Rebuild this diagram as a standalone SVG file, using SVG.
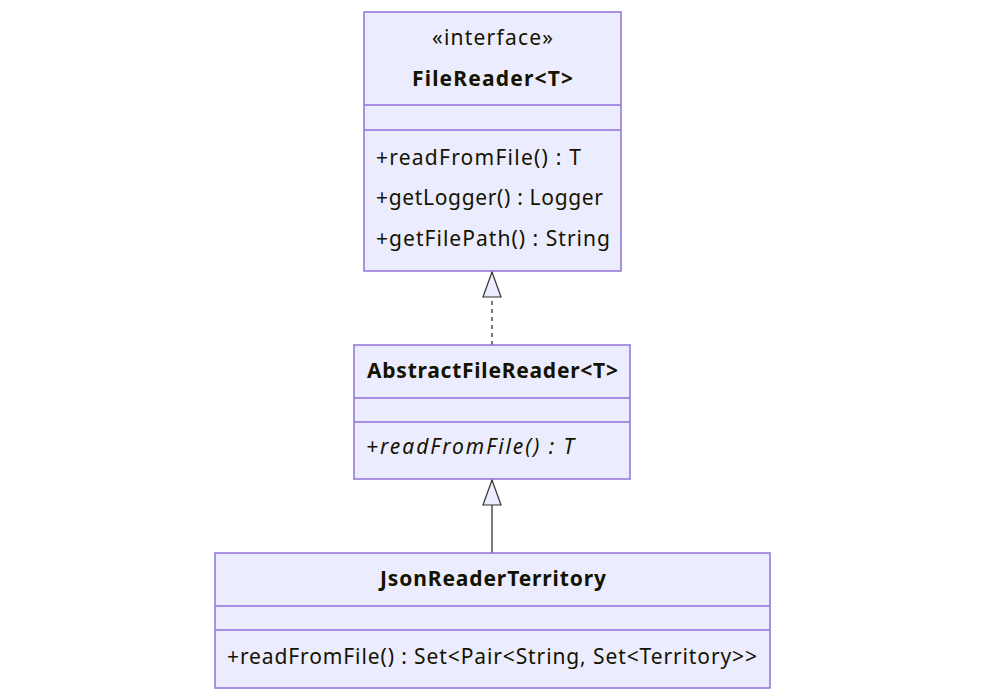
<svg xmlns="http://www.w3.org/2000/svg" width="985" height="700" viewBox="0 0 985 700">
<defs>
<marker id="tri" markerWidth="27" markerHeight="22" refX="26" refY="11" orient="auto" markerUnits="userSpaceOnUse" viewBox="0 0 27 22">
<path d="M26 11 L1 2 L1 20 Z" fill="#ECECFF" stroke="#333" stroke-width="1.2"/>
</marker>
<style>
.box{fill:#ECECFF;stroke:#9370DB;stroke-width:1.5}
.sep{stroke:#9370DB;stroke-width:1.5}
text{font-family:"Noto Sans","DejaVu Sans",sans-serif;font-size:21px;fill:#131300;dominant-baseline:central}
.t{font-weight:bold;text-anchor:middle}
.c{text-anchor:middle}
.i{font-style:italic}
.edge{stroke:#333;stroke-width:1.3;fill:none}
</style>
</defs>
<rect width="985" height="700" fill="#fff"/>
<g id="connectors">
<path class="edge" d="M492 345 L492 272" stroke-dasharray="4,4" marker-end="url(#tri)"/>
<path class="edge" d="M492 553 L492 480" marker-end="url(#tri)"/>
</g>
<g id="FileReader">
<rect class="box" x="364" y="12" width="257" height="259"/>
<line class="sep" x1="364" y1="105" x2="621" y2="105"/>
<line class="sep" x1="364" y1="130" x2="621" y2="130"/>
<text class="c" x="492.5" y="37" textLength="121">«interface»</text>
<text class="t" x="492.5" y="78" textLength="161">FileReader&lt;T&gt;</text>
<text x="376" y="157" textLength="205">+readFromFile() : T</text>
<text x="376" y="197" textLength="227">+getLogger() : Logger</text>
<text x="376" y="238" textLength="234">+getFilePath() : String</text>
</g>
<g id="AbstractFileReader">
<rect class="box" x="354" y="345" width="276" height="134"/>
<line class="sep" x1="354" y1="398" x2="630" y2="398"/>
<line class="sep" x1="354" y1="422" x2="630" y2="422"/>
<text class="t" x="492.5" y="370" textLength="251">AbstractFileReader&lt;T&gt;</text>
<text class="i" x="366" y="446" textLength="208">+readFromFile() : T</text>
</g>
<g id="JsonReaderTerritory">
<rect class="box" x="215" y="553" width="555" height="135"/>
<line class="sep" x1="215" y1="606" x2="770" y2="606"/>
<line class="sep" x1="215" y1="630" x2="770" y2="630"/>
<text class="t" x="493" y="578" textLength="226">JsonReaderTerritory</text>
<text x="227" y="656" textLength="530">+readFromFile() : Set&lt;Pair&lt;String, Set&lt;Territory&gt;&gt;</text>
</g>
</svg>
